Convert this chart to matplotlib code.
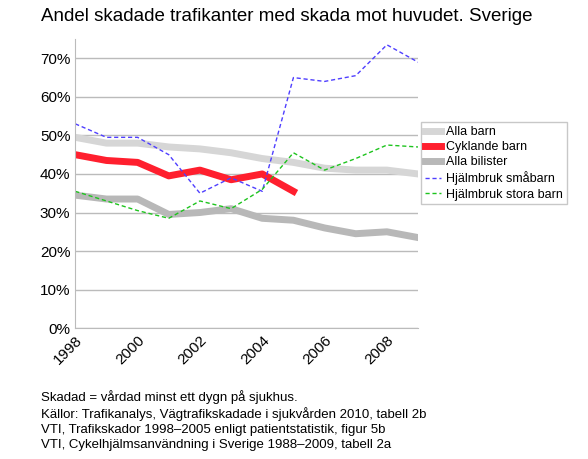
import matplotlib.pyplot as plt
from matplotlib.ticker import FuncFormatter

plt.rcParams['font.family'] = ['Liberation Sans', 'DejaVu Sans']

years = list(range(1998, 2010))
alla_barn = [49.5, 48, 48, 47, 46.5, 45.5, 44, 43, 41.5, 41, 41, 40]
cyklande = [45, 43.5, 43, 39.5, 41, 38.5, 40, 35.5]
bilister = [34.5, 33.5, 33.5, 29.5, 30, 31, 28.5, 28, 26, 24.5, 25, 23.5]
smabarn = [53, 49.5, 49.5, 45, 35, 39, 35.5, 65, 64, 65.5, 73.5, 69]
stora = [35.5, 33, 30.5, 28.5, 33, 31, 36, 45.5, 41, 44, 47.5, 47]

fig = plt.figure(figsize=(5.88, 4.59), dpi=100)
ax = fig.add_axes([0.128, 0.285, 0.583, 0.63])
ax.plot(years, alla_barn, color='#d6d6d6', lw=5, label='Alla barn')
ax.plot(years[:len(cyklande)], cyklande, color='#ff1f2e', lw=5, label='Cyklande barn')
ax.plot(years, bilister, color='#b8b8b8', lw=5, label='Alla bilister')
ax.plot(years, smabarn, color='#4f3fff', lw=1, ls=(0, (3, 2)), label='Hjälmbruk småbarn')
ax.plot(years, stora, color='#1ec41e', lw=1, ls=(0, (3, 2)), label='Hjälmbruk stora barn')
ax.set_xlim(1998, 2009)
ax.set_ylim(0, 75)
ax.set_yticks(range(0, 80, 10))
ax.yaxis.set_major_formatter(FuncFormatter(lambda v, p: f'{int(v)}%'))
ax.set_xticks(range(1998, 2010, 2))
ax.tick_params(axis='x', labelrotation=45, labelsize=11, length=0)
ax.tick_params(axis='y', labelsize=11, length=0)
for lab in ax.get_xticklabels():
    lab.set_ha('right'); lab.set_rotation_mode('anchor')
ax.grid(axis='y', color='#bbbbbb', lw=1)
for s in ['top', 'right']:
    ax.spines[s].set_visible(False)
ax.spines['left'].set_color('#bbbbbb')
ax.spines['bottom'].set_color('#bbbbbb')
ax.legend(loc='center left', bbox_to_anchor=(1.01, 0.57), frameon=True, fancybox=False,
          edgecolor='#bbbbbb', fontsize=9, handlelength=1.3, handletextpad=0.4,
          borderpad=0.3, labelspacing=0.25, borderaxespad=0)
fig.text(0.07, 0.955, 'Andel skadade trafikanter med skada mot huvudet. Sverige', fontsize=13.5)
fig.text(0.07, 0.025, 'Skadad = vårdad minst ett dygn på sjukhus.\n'
         'Källor: Trafikanalys, Vägtrafikskadade i sjukvården 2010, tabell 2b\n'
         'VTI, Trafikskador 1998–2005 enligt patientstatistik, figur 5b\n'
         'VTI, Cykelhjälmsanvändning i Sverige 1988–2009, tabell 2a',
         fontsize=9.5, linespacing=1.3)
fig.savefig('out.png')
